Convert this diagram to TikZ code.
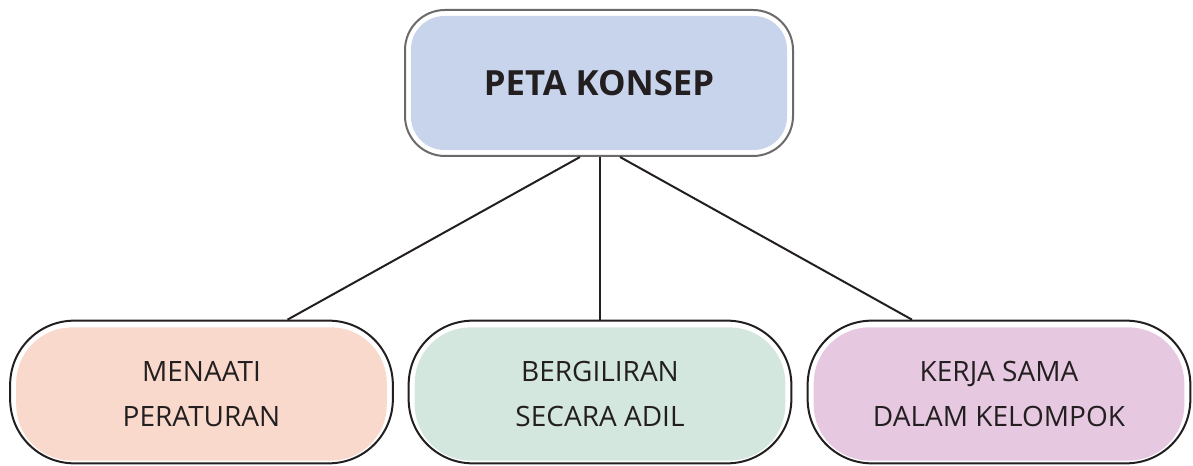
\documentclass[tikz,border=0pt]{standalone}
\usepackage{fontspec}
\setmainfont{Open Sans}
\usetikzlibrary{calc}
\definecolor{cblue}{HTML}{C8D4EC}
\definecolor{cpink}{HTML}{FAD9CD}
\definecolor{cgreen}{HTML}{D4E7DE}
\definecolor{cpurple}{HTML}{E6C8E1}
\definecolor{ink}{HTML}{231F20}
\definecolor{gline}{HTML}{6A6A6A}
\begin{document}
\begin{tikzpicture}[x=0.75pt,y=-0.75pt,
  topouter/.style={draw=gline,line width=1.5pt,fill=white,rounded corners=30pt,minimum width=291pt,minimum height=109.5pt,inner sep=0pt},
  topinner/.style={fill=cblue,rounded corners=25pt,minimum width=282pt,minimum height=100.5pt,inner sep=0pt,font=\fontsize{26}{30}\selectfont\bfseries,text=ink},
  botouter/.style={draw=ink,line width=1.5pt,fill=white,rounded corners=48pt,minimum width=287pt,minimum height=107pt,inner sep=0pt},
  botinner/.style={rounded corners=42pt,minimum width=278pt,minimum height=100pt,inner sep=0pt,align=center,font=\fontsize{21}{33.5}\selectfont,text=ink},
  conn/.style={draw=ink,line width=1.5pt}]
\useasboundingbox (0,0) rectangle (1193,466);
\node[topouter] (topo) at (599,83) {};
\node[botouter] (lefto) at (201.5,392) {};
\node[botouter] (mido) at (600,392) {};
\node[botouter] (righto) at (999,392) {};
\draw[conn] ($(topo.south)+(-19,0)$) -- ($(lefto.north)+(86,0)$);
\draw[conn] ($(topo.south)+(1,0)$) -- (mido.north);
\draw[conn] ($(topo.south)+(21,0)$) -- ($(righto.north)+(-87,0)$);
\node[topinner] (top) at (topo.center) {PETA KONSEP};
\node[botinner,fill=cpink] (left) at ($(lefto.center)+(0,2)$) {MENAATI\\PERATURAN};
\node[botinner,fill=cgreen] (mid) at ($(mido.center)+(0,2)$) {BERGILIRAN\\SECARA ADIL};
\node[botinner,fill=cpurple] (right) at ($(righto.center)+(0,2)$) {KERJA SAMA\\DALAM KELOMPOK};
\end{tikzpicture}
\end{document}
